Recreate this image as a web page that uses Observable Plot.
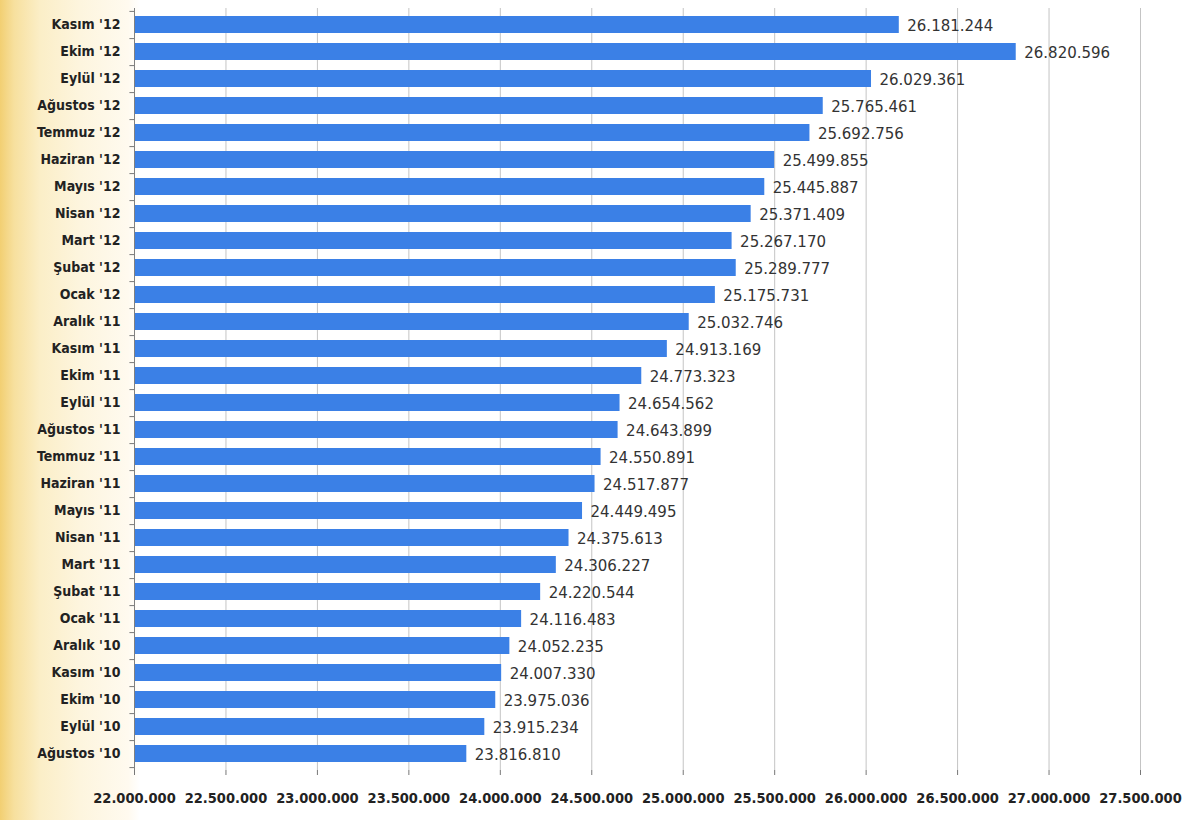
<!DOCTYPE html>
<html>
<head>
<meta charset="utf-8">
<script src="https://cdn.jsdelivr.net/npm/d3@7"></script>
<script src="https://cdn.jsdelivr.net/npm/@observablehq/plot@0.6"></script>
<style>
  html, body { margin: 0; padding: 0; }
  body {
    width: 1194px; height: 820px; overflow: hidden;
    background: linear-gradient(to right, #f2cf72 0px, #f7e09e 14px, #fbeec7 40px, #fdf5de 80px, #fffaef 128px, #ffffff 140px);
  }
  #chart svg { display: block; }
</style>
</head>
<body>
<div id="chart"></div>
<script>
const months = [
  "Kasım '12", "Ekim '12", "Eylül '12", "Ağustos '12", "Temmuz '12", "Haziran '12",
  "Mayıs '12", "Nisan '12", "Mart '12", "Şubat '12", "Ocak '12", "Aralık '11",
  "Kasım '11", "Ekim '11", "Eylül '11", "Ağustos '11", "Temmuz '11", "Haziran '11",
  "Mayıs '11", "Nisan '11", "Mart '11", "Şubat '11", "Ocak '11", "Aralık '10",
  "Kasım '10", "Ekim '10", "Eylül '10", "Ağustos '10"
];
const values = [
  26181244, 26820596, 26029361, 25765461, 25692756, 25499855,
  25445887, 25371409, 25267170, 25289777, 25175731, 25032746,
  24913169, 24773323, 24654562, 24643899, 24550891, 24517877,
  24449495, 24375613, 24306227, 24220544, 24116483, 24052235,
  24007330, 23975036, 23915234, 23816810
];
const xTicks = [22000000, 22500000, 23000000, 23500000, 24000000, 24500000,
  25000000, 25500000, 26000000, 26500000, 27000000, 27500000];

const data = months.map((m, i) => ({month: m, value: values[i]}));
const tr = d3.formatLocale({decimal: ",", thousands: ".", grouping: [3], currency: ["", ""]});
const fmt = tr.format(",d");

const W = 1194, H = 820, mt = 8, mb = 50, ml = 134, mr = 54;
const step = (H - mt - mb) / months.length;
const pad = 0.38;

const chart = Plot.plot({
  width: W, height: H,
  marginLeft: ml, marginRight: mr, marginTop: mt, marginBottom: mb,
  style: {background: "transparent", fontFamily: "'DejaVu Sans Condensed', 'DejaVu Sans', sans-serif", color: "#222"},
  x: {domain: [xTicks[0], xTicks[xTicks.length - 1]]},
  y: {domain: months, paddingInner: pad, paddingOuter: pad / 2},
  marks: [
    Plot.gridX(xTicks.slice(1), {stroke: "#c4c4c4", strokeOpacity: 1}),
    Plot.barX(data, {x1: xTicks[0], x2: "value", y: "month", fill: "#3b80e6"}),
    Plot.text(data, {
      x: "value", y: "month", text: d => fmt(d.value), textAnchor: "start", dx: 8, dy: 1,
      fontSize: 15, fontFamily: "'DejaVu Sans', sans-serif", fill: "#333", letterSpacing: "0.4px"
    }),
    Plot.axisX(xTicks, {
      tickFormat: fmt, tickSize: 5, tickPadding: 17, label: null,
      fontSize: 14.5, fontWeight: "bold", stroke: "#777", fill: "#222"
    }),
    Plot.axisY({tickSize: 0, tickPadding: 14, label: null, fontSize: 14, fontWeight: "bold", fill: "#222"}),
    Plot.ruleY(months, {y: d => d, x1: 21975000, x2: xTicks[0], dy: step / 2, stroke: "#777"}),
    Plot.ruleY([months[0]], {y: d => d, x1: 21975000, x2: xTicks[0], dy: -step / 2, stroke: "#777"}),
    Plot.ruleX([xTicks[0]], {stroke: "#808080"})
  ]
});
document.getElementById("chart").appendChild(chart);
</script>
</body>
</html>
